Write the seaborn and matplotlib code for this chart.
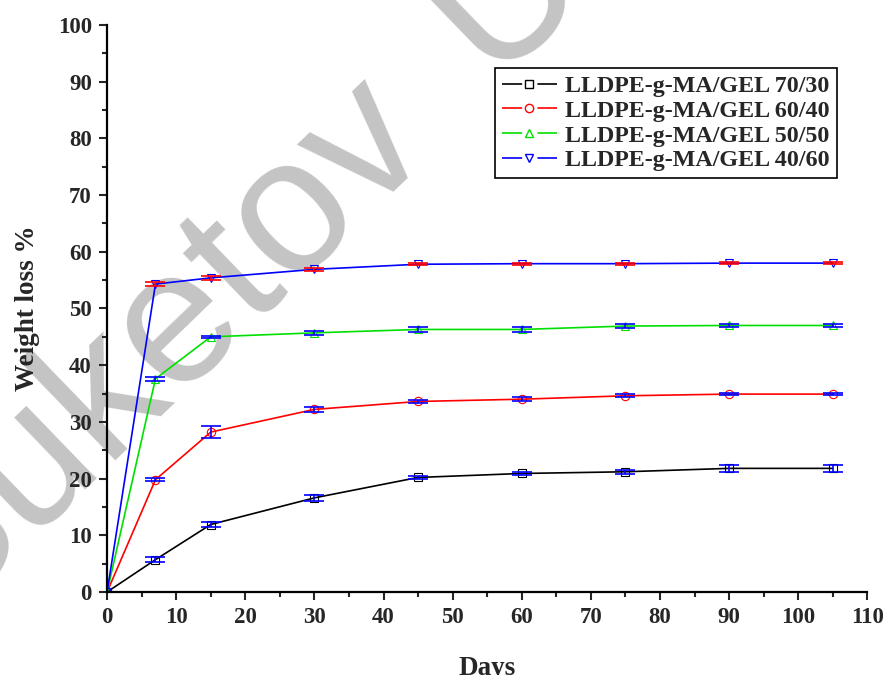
import numpy as np
import pandas as pd
import matplotlib
matplotlib.use('Agg')
import matplotlib.pyplot as plt
from matplotlib.ticker import MultipleLocator
from matplotlib.lines import Line2D
from matplotlib.legend_handler import HandlerTuple
import seaborn as sns

days = [0, 7, 15, 30, 45, 60, 75, 90, 105]
labels = ['LLDPE-g-MA/GEL 70/30', 'LLDPE-g-MA/GEL 60/40',
          'LLDPE-g-MA/GEL 50/50', 'LLDPE-g-MA/GEL 40/60']
loss_70_30 = [0, 5.7, 11.9, 16.6, 20.2, 20.9, 21.2, 21.8, 21.8]
loss_60_40 = [0, 19.8, 28.2, 32.2, 33.6, 34.0, 34.6, 34.9, 34.9]
loss_50_50 = [0, 37.6, 45.0, 45.7, 46.3, 46.3, 46.9, 47.0, 47.0]
loss_40_60 = [0, 54.3, 55.4, 56.9, 57.8, 57.9, 57.9, 58.0, 58.0]
err_70_30 = [0, 0.4, 0.4, 0.5, 0.3, 0.3, 0.4, 0.6, 0.6]
err_60_40 = [0, 0.3, 1.0, 0.5, 0.3, 0.3, 0.3, 0.2, 0.2]
err_50_50 = [0, 0.4, 0.2, 0.3, 0.4, 0.4, 0.3, 0.3, 0.3]
err_40_60 = [0, 0.4, 0.4, 0.3, 0.2, 0.2, 0.2, 0.2, 0.2]

series = [loss_70_30, loss_60_40, loss_50_50, loss_40_60]
errors = [err_70_30, err_60_40, err_50_50, err_40_60]
colors = ['black', 'red', '#00e000', 'blue']
err_colors = ['blue', 'blue', 'blue', 'red']
markers = ['s', 'o', '^', 'v']

sns.set_style('ticks')
plt.rcParams['font.family'] = ['Liberation Serif', 'DejaVu Serif']
plt.rcParams['font.weight'] = 'bold'
plt.rcParams['lines.scale_dashes'] = False

fig = plt.figure(figsize=(8.85, 6.75), dpi=100)
ax = fig.add_axes([0.121, 0.123, 0.859, 0.840])
ax.set_zorder(1)

# watermark, placed as two words
wm = dict(fontsize=138, color='#c4c4c4', rotation=44, ha='center', va='center',
          rotation_mode='anchor', zorder=0, weight='normal', family='Liberation Sans')
fig.text(0.170, 0.482, 'Suketov', **wm)
fig.text(0.672, 1.135, 'Univ', **wm)

for y, e, lab, c, ec, m in zip(series, errors, labels, colors, err_colors, markers):
    df = pd.DataFrame({'Days': days, 'Loss': y})
    sns.lineplot(data=df, x='Days', y='Loss', ax=ax, color=c, marker=m,
                 markersize=6, markerfacecolor='none', markeredgecolor=c,
                 markeredgewidth=0.8, linewidth=1.2, legend=False)
    ax.errorbar(days[1:], y[1:], yerr=e[1:], fmt='none', ecolor=ec,
                elinewidth=1.2, capsize=7, capthick=1.2, zorder=3)

ax.set_xlim(0, 110)
ax.set_ylim(0, 100)
ax.xaxis.set_major_locator(MultipleLocator(10))
ax.xaxis.set_minor_locator(MultipleLocator(5))
ax.yaxis.set_major_locator(MultipleLocator(10))
ax.yaxis.set_minor_locator(MultipleLocator(5))
ax.tick_params(which='major', direction='out', length=6, width=1.5,
               labelsize=16.5, pad=5)
ax.tick_params(which='minor', direction='out', length=3.5, width=1.5)
for t in ax.get_xticklabels() + ax.get_yticklabels():
    t.set_fontweight('bold')
sns.despine(ax=ax)
for s in ['left', 'bottom']:
    ax.spines[s].set_linewidth(1.6)
    ax.spines[s].set_color('black')
ax.set_xlabel('Days', fontsize=19.5, fontweight='bold', labelpad=20)
ax.set_ylabel('Weight loss %', fontsize=19.5, fontweight='bold', labelpad=13)
ax.patch.set_alpha(0)

# legend handles: line - marker - line
handles = []
for c, m in zip(colors, markers):
    ln = Line2D([], [], color=c, linewidth=1.2, dashes=(14.5, 11))
    mk = Line2D([], [], color=c, linestyle='none', marker=m, markersize=6,
                markerfacecolor='none', markeredgewidth=1.0)
    handles.append((ln, mk))

leg = ax.legend(handles, labels, loc='upper right', bbox_to_anchor=(0.9605, 0.924),
                borderaxespad=0, fontsize=17.3, frameon=True, fancybox=False,
                edgecolor='black', handlelength=2.3, handletextpad=0.35,
                borderpad=0.3, labelspacing=0.12,
                handler_map={tuple: HandlerTuple(ndivide=1, pad=0)})
leg.get_frame().set_linewidth(1.2)
leg.get_frame().set_alpha(1)
for t in leg.get_texts():
    t.set_fontweight('bold')

fig.savefig('out.png', dpi=100)
